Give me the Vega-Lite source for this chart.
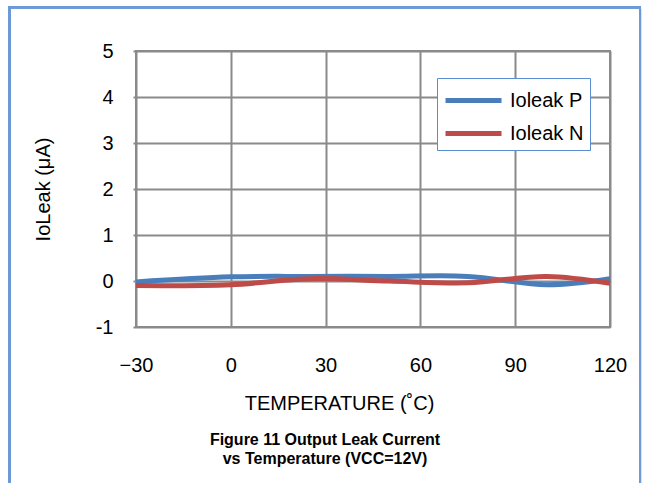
{
  "$schema": "https://vega.github.io/schema/vega-lite/v6.json",
  "width": 474,
  "height": 276,
  "autosize": "none",
  "padding": {"left": 136, "top": 51, "right": 49, "bottom": 156},
  "background": "white",
  "config": {
    "font": "Liberation Sans",
    "view": {"stroke": "#8a8a8a", "strokeWidth": 2},
    "axis": {"labelFont": "Liberation Sans", "titleFont": "Liberation Sans", "labelColor": "#000000", "titleColor": "#000000", "labelFontSize": 20, "titleFontSize": 20, "titleFontWeight": "normal", "grid": true, "gridColor": "#8a8a8a", "gridWidth": 2, "gridOpacity": 1, "domain": false, "labelFlush": false, "labelBound": false, "labelOverlap": false}
  },
  "title": {"text": ["Figure 11 Output Leak Current", "vs Temperature  (VCC=12V)"], "orient": "bottom", "anchor": "middle", "dx": -48, "offset": -55, "font": "Liberation Sans", "fontSize": 16, "fontWeight": "bold", "color": "#000000", "lineHeight": 19},
  "data": {"values": [
    {"t": -30, "v": -0.02, "s": "Ioleak P"},
    {"t": 0, "v": 0.09, "s": "Ioleak P"},
    {"t": 25, "v": 0.1, "s": "Ioleak P"},
    {"t": 50, "v": 0.1, "s": "Ioleak P"},
    {"t": 75, "v": 0.1, "s": "Ioleak P"},
    {"t": 100, "v": -0.08, "s": "Ioleak P"},
    {"t": 120, "v": 0.05, "s": "Ioleak P"},
    {"t": -30, "v": -0.1, "s": "Ioleak N"},
    {"t": 0, "v": -0.08, "s": "Ioleak N"},
    {"t": 25, "v": 0.05, "s": "Ioleak N"},
    {"t": 50, "v": 0.0, "s": "Ioleak N"},
    {"t": 75, "v": -0.04, "s": "Ioleak N"},
    {"t": 100, "v": 0.1, "s": "Ioleak N"},
    {"t": 120, "v": -0.05, "s": "Ioleak N"}
  ]},
  "layer": [
    {
      "mark": {"type": "rect", "fill": null, "stroke": "#6d9ad6", "strokeWidth": 2, "clip": false},
      "encoding": {
        "x": {"datum": -70},
        "x2": {"datum": 129.5},
        "y": {"datum": 5.95},
        "y2": {"datum": -4.45}
      }
    },
    {
      "mark": {"type": "line", "interpolate": "catmull-rom", "strokeWidth": 5},
      "encoding": {
        "x": {"field": "t", "type": "quantitative", "scale": {"domain": [-30, 120], "nice": false, "zero": false},
              "axis": {"values": [-30, 0, 30, 60, 90, 120], "title": "TEMPERATURE (˚C)", "labelPadding": 28, "ticks": false, "titlePadding": 18, "titleX": 203, "labelExpr": "datum.value < 0 ? '−' + abs(datum.value) : datum.label"}},
        "y": {"field": "v", "type": "quantitative", "scale": {"domain": [-1, 5], "nice": false},
              "axis": {"values": [-1, 0, 1, 2, 3, 4, 5], "title": "IoLeak  (μA)", "tickSize": 3, "tickColor": "#8a8a8a", "tickWidth": 2, "labelPadding": 20, "titlePadding": 42, "labelExpr": "datum.value < 0 ? '-' + abs(datum.value) : datum.label"}},
        "color": {"field": "s", "type": "nominal", "sort": ["Ioleak P", "Ioleak N"],
                  "scale": {"domain": ["Ioleak P", "Ioleak N"], "range": ["#4a7ebb", "#be4b48"]},
                  "legend": {"title": null, "orient": "none", "legendX": 301, "legendY": 27, "symbolType": "M-1,0H3", "symbolSize": 784, "symbolStrokeWidth": 5, "symbolFillColor": "transparent", "labelFontSize": 20, "labelFont": "Liberation Sans", "labelColor": "#000000", "labelOffset": 34, "rowPadding": 6, "padding": 6, "strokeColor": "#5a8ed0", "fillColor": "white"}}
      }
    }
  ]
}
